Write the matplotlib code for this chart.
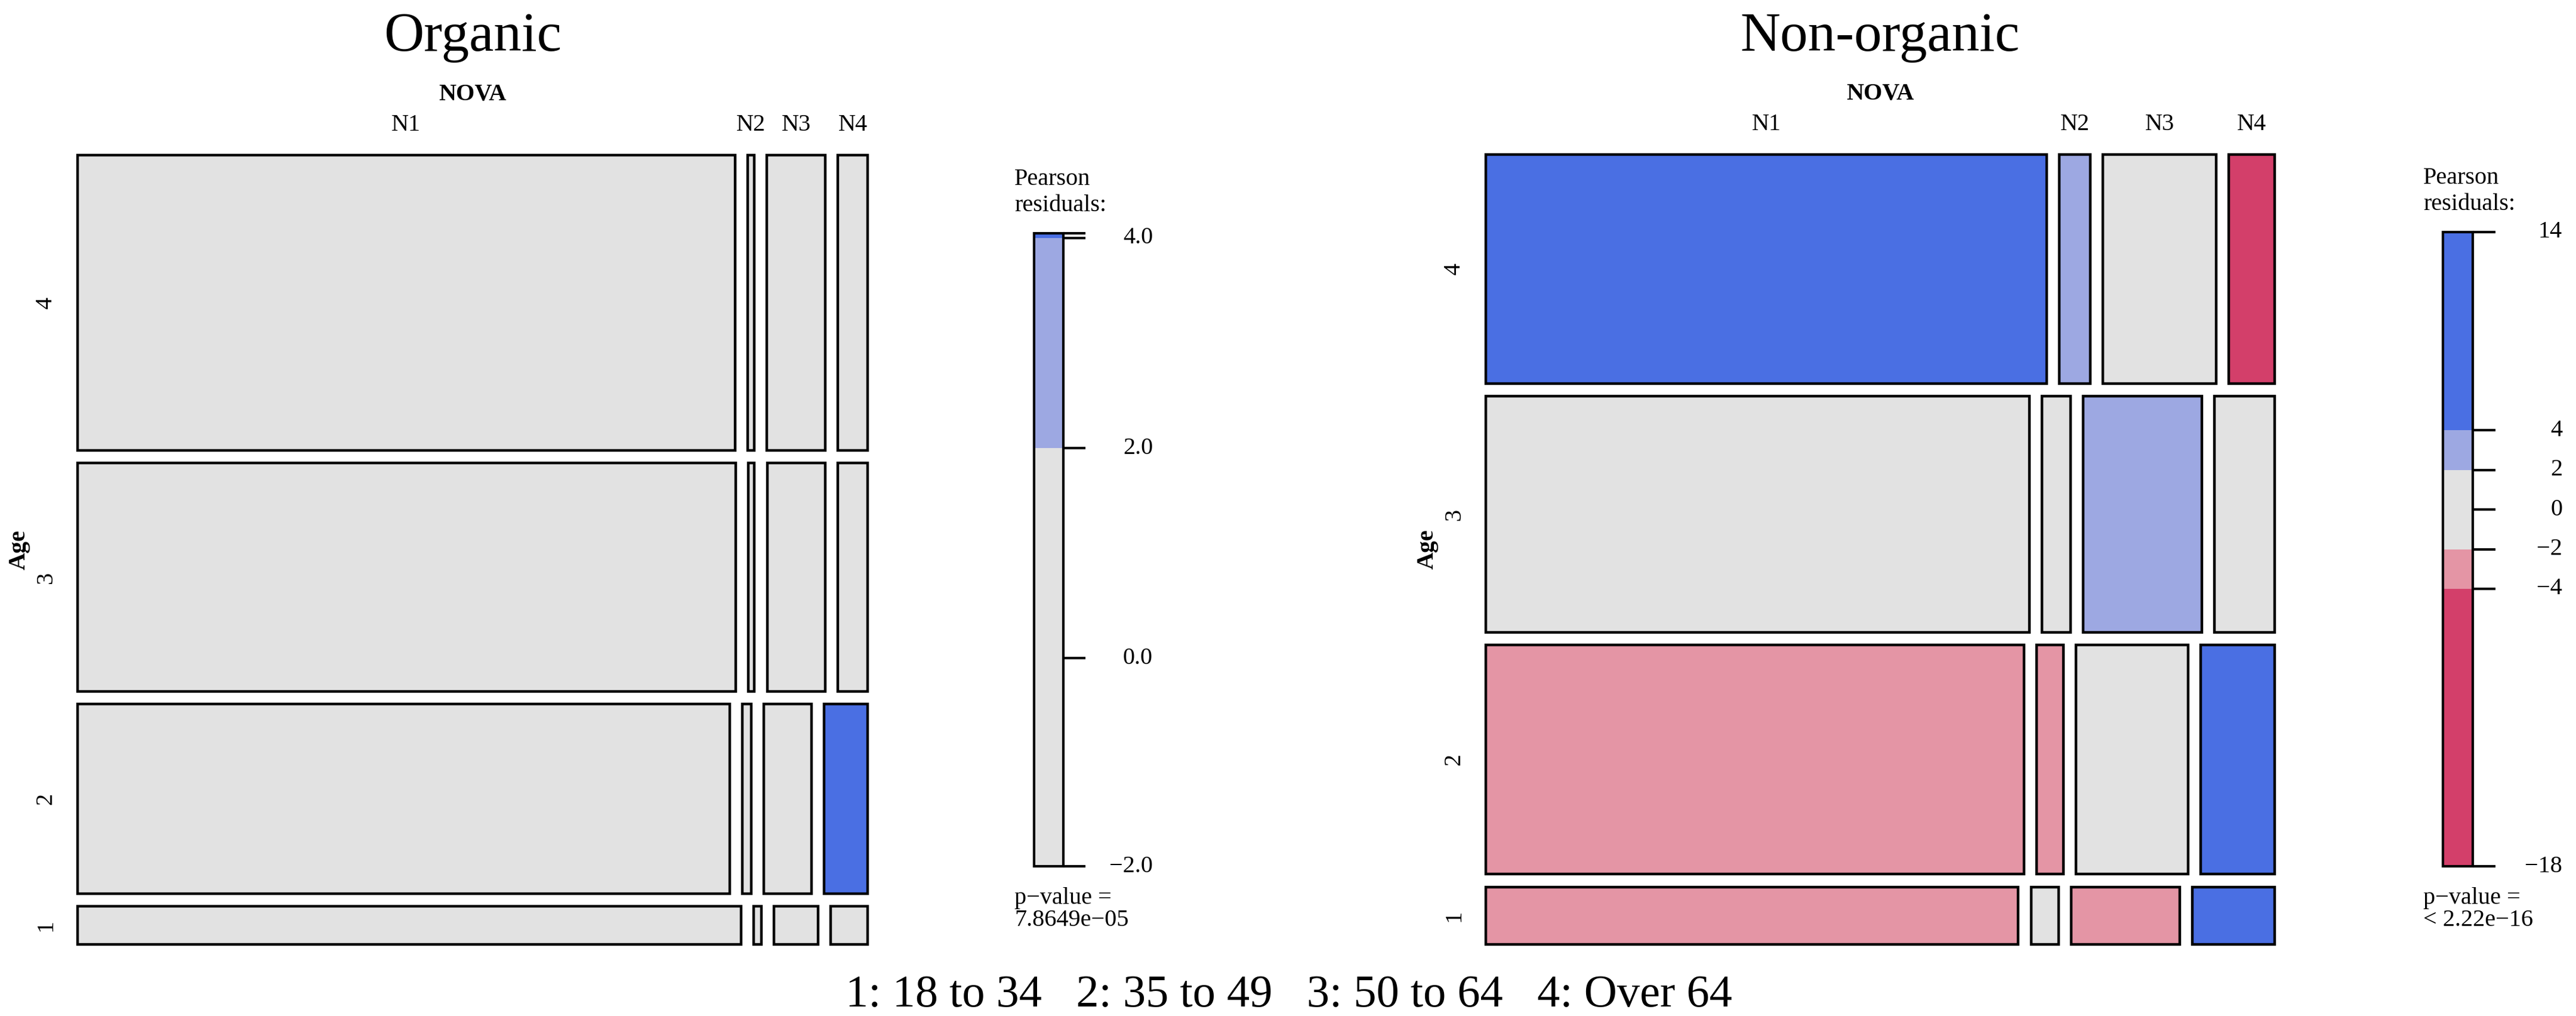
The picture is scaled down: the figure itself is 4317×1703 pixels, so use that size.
import numpy as np
import matplotlib
matplotlib.use("Agg")
import matplotlib.pyplot as plt
from matplotlib.patches import Rectangle

# ---------------- data ----------------
age_levels = ["1", "2", "3", "4"]          # rows, bottom to top
nova_levels = ["N1", "N2", "N3", "N4"]     # columns, left to right
age_key = ["1: 18 to 34", "2: 35 to 49", "3: 50 to 64", "4: Over 64"]

# estimated cell counts (rows = Age 1..4, cols = N1..N4)
organic_counts = np.array([
    [90, 1, 6, 5],
    [437, 6, 32, 29],
    [532, 5, 47, 24],
    [687, 7, 61, 31],
])
organic_resid = np.array([
    [0.3, 0.7, -1.0, -1.98],
    [-0.6, 1.2, -1.3, 4.045],
    [0.2, -0.8, 0.9, 0.4],
    [0.5, -0.5, 0.3, -1.0],
])
nonorganic_counts = np.array([
    [1085, 56, 221, 168],
    [4371, 217, 913, 599],
    [4546, 239, 993, 502],
    [4549, 250, 920, 371],
])
nonorganic_resid = np.array([
    [-3.5, -0.5, -2.8, 11.0],
    [-3.0, -2.5, 0.8, 10.0],
    [-1.5, 0.5, 3.2, 0.2],
    [14.0, 3.0, 1.0, -18.0],
])
panel_titles = ["Organic", "Non-organic"]
p_values = ["7.8649e\u221205", "< 2.22e\u221216"]
tick_formats = ["{:.1f}", "{:.0f}"]
cuts = [-4, -2, 0, 2, 4]

# ---------------- style ----------------
plt.rcParams['font.family'] = ['Liberation Serif', 'DejaVu Serif']
C_BLUE = "#4A6FE3"
C_LBLUE = "#9DA8E2"
C_GREY = "#E2E2E2"
C_PINK = "#E495A5"
C_RED = "#D33F6A"


def shade(r):
    if r > 4:
        return C_BLUE
    if r > 2:
        return C_LBLUE
    if r < -4:
        return C_RED
    if r < -2:
        return C_PINK
    return C_GREY


W, H = 4317, 1703
fig = plt.figure(figsize=(W / 100, H / 100), dpi=100)


def px_axes(x0, y0, x1, y1):
    return fig.add_axes([x0 / W, 1 - y1 / H, (x1 - x0) / W, (y1 - y0) / H])


LW = 3.2
GAP = 0.0160


def mosaic(ax, counts, resid):
    nr, nc = counts.shape
    row_tot = counts.sum(axis=1)
    row_h = (1 - GAP * (nr - 1)) * row_tot / row_tot.sum()
    y = 0.0
    row_centers = []
    top_centers = []
    for i in range(nr):
        widths = (1 - GAP * (nc - 1)) * counts[i] / counts[i].sum()
        x = 0.0
        centers = []
        for j in range(nc):
            ax.add_patch(Rectangle((x, y), widths[j], row_h[i],
                                   facecolor=shade(resid[i, j]),
                                   edgecolor="black", lw=LW, clip_on=False))
            centers.append(x + widths[j] / 2)
            x += widths[j] + GAP
        row_centers.append(y + row_h[i] / 2)
        top_centers = centers
        y += row_h[i] + GAP
    ax.set_xlim(0, 1)
    ax.set_ylim(0, 1)
    ax.axis("off")
    # column labels (positioned by top row)
    for lab, xc in zip(nova_levels, top_centers):
        ax.annotate(lab, xy=(xc, 1), xycoords=("data", "axes fraction"),
                    xytext=(0, 50), textcoords="offset pixels",
                    ha="center", va="center", fontsize=29)
    ax.annotate("NOVA", xy=(0.5, 1), xycoords="axes fraction",
                xytext=(0, 101), textcoords="offset pixels",
                ha="center", va="center", fontsize=29, fontweight="bold")
    for lab, yc in zip(age_levels, row_centers):
        ax.annotate(lab, xy=(0, yc), xycoords=("axes fraction", "data"),
                    xytext=(-53, 0), textcoords="offset pixels",
                    ha="center", va="center", fontsize=29, rotation=90)
    ax.annotate("Age", xy=(0, 0.5), xycoords="axes fraction",
                xytext=(-98, 0), textcoords="offset pixels",
                ha="center", va="center", fontsize=29, fontweight="bold",
                rotation=90)


def legend(lax, resid, fmt, pval):
    lo, hi = resid.min(), resid.max()
    breaks = sorted(set([lo, hi] + [c for c in cuts if lo < c < hi]))
    for a, b in zip(breaks[:-1], breaks[1:]):
        lax.add_patch(Rectangle((0, a), 1, b - a, facecolor=shade((a + b) / 2),
                                edgecolor="none"))
    lax.add_patch(Rectangle((0, lo), 1, hi - lo, facecolor="none",
                            edgecolor="black", lw=3, clip_on=False))
    lax.set_xlim(0, 1)
    lax.set_ylim(lo, hi)
    lax.axis("off")
    rng = hi - lo
    for t in breaks:
        lax.plot([1, 1.75], [t, t], color="black", lw=3, clip_on=False,
                 solid_capstyle="butt")
        is_extreme = t in (lo, hi)
        near_cut = any(abs(t - c) < 0.04 * rng and c != t
                       for c in breaks if c not in (lo, hi))
        if is_extreme and near_cut:
            continue
        lax.annotate(fmt.format(t).replace("-", "\u2212"), xy=(1, t),
                     xycoords=("axes fraction", "data"),
                     xytext=(150, 0), textcoords="offset pixels",
                     ha="right", va="center", fontsize=29)
    lax.annotate("Pearson", xy=(0, 1), xycoords="axes fraction",
                 xytext=(-33, 90), textcoords="offset pixels",
                 ha="left", va="center", fontsize=29)
    lax.annotate("residuals:", xy=(0, 1), xycoords="axes fraction",
                 xytext=(-33, 47), textcoords="offset pixels",
                 ha="left", va="center", fontsize=29)
    lax.annotate("p\u2212value =", xy=(0, 0), xycoords="axes fraction",
                 xytext=(-33, -53), textcoords="offset pixels",
                 ha="left", va="center", fontsize=29)
    lax.annotate(pval, xy=(0, 0), xycoords="axes fraction",
                 xytext=(-33, -90), textcoords="offset pixels",
                 ha="left", va="center", fontsize=29)


panels = [
    (organic_counts, organic_resid, (130, 260, 1454, 1583), (1733, 391, 1782, 1452)),
    (nonorganic_counts, nonorganic_resid, (2490, 259, 3812, 1583), (4094, 389, 4144, 1452)),
]

for k, (cnt, res, box, lbox) in enumerate(panels):
    ax = px_axes(*box)
    mosaic(ax, cnt, res)
    ax.annotate(panel_titles[k], xy=(0.5, 1), xycoords="axes fraction",
                xytext=(0, box[1] - 85), textcoords="offset pixels",
                ha="center", va="baseline", fontsize=67)
    lax = px_axes(*lbox)
    legend(lax, res, tick_formats[k], p_values[k])

fig.text(2160 / W, 1 - 1687 / H, "   ".join(age_key), ha="center",
         va="baseline", fontsize=55)

fig.savefig("out.png", dpi=100)
